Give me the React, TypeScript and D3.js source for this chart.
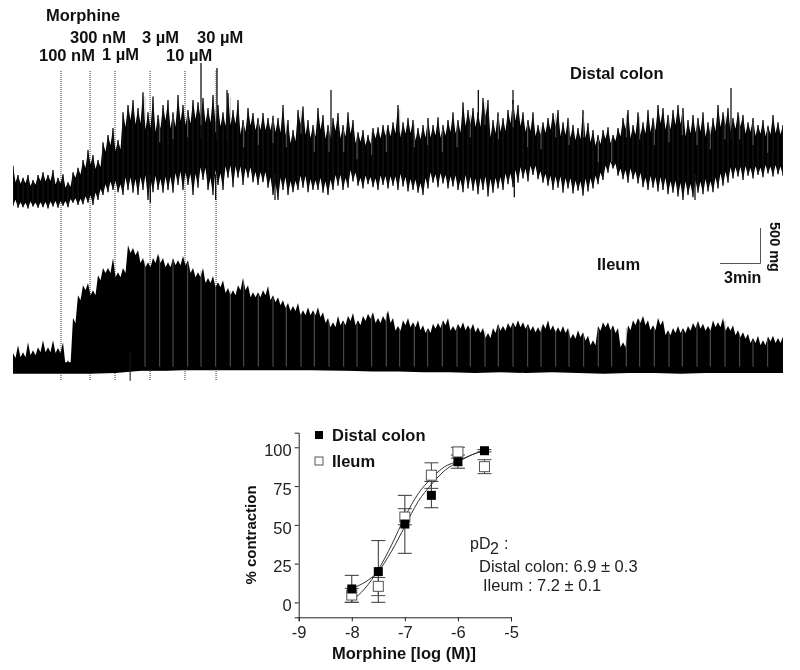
import React, {useEffect, useRef} from 'react'
import * as d3 from 'd3'

// tracings, read every 0.375 min, mg above each trace's baseline
const colonUpper = [
  620, 490, 450, 490, 420, 490, 530, 490, 560, 450, 500, 390, 530, 590, 700, 840, 770, 700, 950, 1050,
  1150, 980, 1370, 1470, 1540, 1430, 1650, 1370, 1590, 1330, 1470, 1540, 1370, 1610, 1470, 1400, 1540, 1510, 1570, 1430,
  1610, 1470, 1370, 1640, 1400, 1540, 1260, 1430, 1360, 1290, 1360, 1290, 1320, 1290, 1470, 1260, 1120, 1400, 1450, 1260,
  1190, 1430, 1330, 1190, 1290, 1360, 1190, 1370, 1260, 1090, 1120, 1050, 1150, 1160, 1190, 1190, 1230, 1470, 1230, 1290,
  1260, 1150, 1190, 1290, 1190, 1300, 1190, 1260, 1370, 1260, 1510, 1400, 1430, 1370, 1570, 1540, 1260, 1370, 1290, 1400,
  1540, 1470, 1370, 1260, 1370, 1190, 1230, 1290, 1360, 1400, 1230, 1290, 1190, 1150, 1400, 1220, 1120, 1050, 1120, 1160,
  1050, 1150, 1290, 1400, 1190, 1370, 1230, 1400, 1290, 1470, 1430, 1330, 1400, 1470, 1430, 1260, 1330, 1290, 1370, 1230,
  1290, 1470, 1370, 1430, 1290, 1370, 1330, 1230, 1290, 1190, 1260, 1180, 1330, 1230, 1190,
]
const colonLower = [
  60, 30, 40, 20, 50, 30, 40, 20, 50, 30, 60, 40, 100, 70, 80, 100, 70, 140, 210, 250,
  280, 250, 210, 280, 240, 210, 280, 140, 250, 280, 240, 280, 240, 350, 280, 350, 210, 310, 420, 280,
  210, 350, 280, 450, 320, 450, 350, 450, 390, 350, 390, 310, 210, 140, 280, 210, 250, 280, 310, 250,
  280, 280, 240, 210, 280, 340, 280, 310, 400, 340, 300, 360, 320, 280, 350, 300, 340, 280, 330, 260,
  280, 240, 210, 300, 380, 320, 370, 300, 330, 280, 250, 300, 270, 220, 280, 190, 240, 300, 280, 360,
  320, 380, 440, 400, 490, 430, 380, 340, 280, 310, 240, 300, 230, 270, 200, 260, 300, 360, 420, 520,
  580, 480, 430, 380, 430, 370, 320, 280, 310, 260, 280, 220, 240, 190, 140, 210, 180, 240, 220, 260,
  250, 300, 340, 380, 440, 470, 420, 480, 440, 490, 460, 510, 470, 500, 480,
]
const ileumUpper = [
  280, 390, 290, 430, 320, 360, 460, 360, 460, 350, 430, 180, 770, 1090, 1230, 1260, 1160, 1370, 1470, 1470,
  1610, 1410, 1470, 1790, 1750, 1720, 1610, 1550, 1610, 1670, 1610, 1550, 1610, 1580, 1640, 1580, 1470, 1410, 1470, 1330,
  1360, 1270, 1300, 1190, 1160, 1230, 1330, 1230, 1130, 1130, 1160, 1220, 1090, 1060, 1020, 980, 940, 980, 880, 920,
  880, 920, 850, 770, 710, 800, 740, 800, 840, 740, 800, 830, 850, 770, 800, 880, 770, 660, 740, 770,
  710, 740, 670, 630, 690, 700, 740, 770, 660, 690, 710, 670, 690, 640, 630, 560, 630, 690, 660, 700,
  710, 740, 710, 690, 660, 640, 690, 740, 670, 640, 660, 630, 550, 600, 570, 520, 460, 660, 710, 710,
  670, 630, 430, 670, 740, 770, 800, 740, 670, 770, 740, 600, 630, 660, 630, 660, 700, 730, 690, 660,
  740, 710, 770, 660, 670, 600, 570, 550, 490, 520, 460, 510, 520, 490, 510,
]
// ileum floor at even spacing
const ileumFloor = [
  -10, -10, -10, -10, 0, 30, 30, 50, 60, 50, 60, 50, 40, 30, 20, 20, 10, 10, 0, 10, 0, 10, 0, -10, 0, 0, -10, 0, 0, 0, 0,
]

// thin single contractions standing out of the band: [min, mg]
const colonPeaks = [
  [14.1, 2060], [15.3, 1990], [16.05, 1680], [23.85, 1680], [34.9, 1680], [37.5, 1680], [53.85, 1710],
]
const colonDips = [[10.3, 100], [15.2, 140], [19.65, 140], [37.6, 180], [51.15, 140]]
const ileumDips = [[8.75, -110]]
// pale gaps between contractions
const gapTimes = [
  9.9, 11, 12, 13.1, 14.1, 15.2, 16.3, 17.3, 18.4, 19.5, 20.5, 21.6, 22.6, 23.7, 24.8, 25.8, 26.9, 28, 29, 30.1,
  31.1, 32.2, 33.3, 34.3, 35.4, 36.4, 37.5, 38.6, 39.6, 40.7, 41.7, 42.8, 43.9, 44.9, 46, 47, 48.1, 49.2, 50.2,
  51.3, 52.3, 53.4, 54.5, 55.5, 56.6,
]
const doseTimes = [3.6, 5.78, 7.65, 10.28, 12.9, 15.23]

// concentration-response
const logDose = [-8, -7.5, -7, -6.5, -6, -5.5]
const colonMean = [8.6, 19.8, 50.5, 69, 90.7, 97.8]
const colonHigh = [17.4, 39.8, 69, 78, 95, 98.5]
const colonLow = [0, 0, 31.6, 61, 86.5, 97]
const ileumMean = [4.7, 10.3, 55, 82, 97, 87.5]
const ileumHigh = [9, 16, 60.4, 90, 100, 92]
const ileumLow = [0, 4.3, 50, 73.5, 93, 83]
const fitDose = [-8, -7.75, -7.5, -7.25, -7, -6.75, -6.5, -6.25, -6, -5.75, -5.5]
const colonFit = [9, 13, 20, 33, 49, 65, 76, 85, 90.5, 95, 98]
const ileumFit = [1, 9, 21, 37, 55, 70, 80, 87.5, 91, 95, 98]

const STEP = 0.375
const font = '"Liberation Sans", Arial, sans-serif'

// crown of teeth: each reading is a tip, the midpoints between tips are valleys
const crown = (vals: number[], depth: (i: number) => number, pick: (a: number, b: number) => number) => {
  const pts: [number, number][] = []
  vals.forEach((v, i) => {
    pts.push([i * STEP, v])
    if (i < vals.length - 1) pts.push([(i + 0.5) * STEP, pick(v, vals[i + 1]) + depth(i)])
  })
  return pts
}

const Errors = ({x, y, high, low, stroke}) => (
  <g stroke={stroke} strokeWidth={1} fill="none">
    {logDose.map((d, i) => (
      <path
        key={d}
        d={`M${x(d) - 7},${y(high[i])}H${x(d) + 7}M${x(d)},${y(high[i])}V${y(low[i])}M${x(d) - 7},${y(low[i])}H${x(d) + 7}`}
      />
    ))}
  </g>
)

export default function App() {
  const xAxisRef = useRef(null)
  const yAxisRef = useRef(null)

  const t = d3.scaleLinear().domain([0, 57.75]).range([13, 783])
  const mgColon = d3.scaleLinear().domain([0, 500]).range([210, 174.3])
  const mgIleum = d3.scaleLinear().domain([0, 500]).range([373, 337.3])
  const x = d3.scaleLinear().domain([-9, -5]).range([298.7, 511])
  const y = d3.scaleLinear().domain([0, 100]).range([602.3, 447.3])

  const edge = (scale) =>
    d3
      .line<[number, number]>()
      .x((d) => t(d[0]))
      .y((d) => scale(d[1]))
  const colonWidth = (i: number) => colonUpper[i] - colonLower[i]
  const colonTop = crown(colonUpper, (i) => -0.18 * colonWidth(i), Math.min)
  const colonBottom = crown(colonLower, (i) => 0.15 * colonWidth(i), Math.max)
  const colonBand =
    edge(mgColon)(colonTop) + 'L' + edge(mgColon)(colonBottom.slice().reverse()).slice(1) + 'Z'
  const ileumBand = d3
    .area<[number, number]>()
    .x((d) => t(d[0]))
    .y0(mgIleum(40))
    .y1((d) => mgIleum(d[1]))(crown(ileumUpper, () => -70, Math.min))
  const ileumBase = d3
    .area<number>()
    .x((_, i) => t((i * 57.75) / (ileumFloor.length - 1)))
    .y0(mgIleum(150))
    .y1((d) => mgIleum(d))(ileumFloor)
  const fit = d3
    .line<number>()
    .curve(d3.curveMonotoneX)
    .x((_, i) => x(fitDose[i]))
    .y((d) => y(d))

  useEffect(() => {
    const styleAxis = (g) => {
      g.attr('font-family', font).attr('font-size', 16.5).attr('color', '#222')
      g.selectAll('path,line').attr('stroke-width', 1)
    }
    d3.select(xAxisRef.current)
      .call(
        d3
          .axisBottom(x)
          .tickValues([-9, -8, -7, -6, -5])
          .tickFormat((d) => String(d))
          .tickSizeOuter(0)
          .tickSize(4)
          .tickPadding(5)
      )
      .call(styleAxis)
    d3.select(yAxisRef.current)
      .call(
        d3
          .axisLeft(y.copy().domain([-9.6, 109.4]).range([617.3, 432.7]))
          .tickValues([0, 25, 50, 75, 100])
          .tickSizeOuter(0)
          .tickSize(4)
      )
      .call(styleAxis)
      .call((g) => g.selectAll('text').attr('dy', '0.5em'))
  }, [])

  return (
    <svg width={800} height={670} style={{position: 'absolute', left: 0, top: 0, background: '#fff'}} fontFamily={font}>
      <defs>
        <filter id="soft" x="0" y="0" width="100%" height="100%">
          <feGaussianBlur stdDeviation="0.35" />
        </filter>
      </defs>
      <g filter="url(#soft)">
        {doseTimes.map((d) => (
          <line key={d} x1={t(d)} x2={t(d)} y1={71} y2={381} stroke="#333" strokeDasharray="1 1" />
        ))}

        <path d={colonBand} fill="#060606" />
        <g stroke="#111" strokeWidth={1.3}>
          {colonUpper.map((v, i) => (
            <line key={i} x1={t(i * STEP)} x2={t(i * STEP)} y1={mgColon(v)} y2={mgColon(colonLower[i])} />
          ))}
          {colonPeaks.map(([m, v]) => (
            <line key={m} x1={t(m)} x2={t(m)} y1={mgColon(v)} y2={mgColon(1000)} />
          ))}
          {colonDips.map(([m, v]) => (
            <line key={m} x1={t(m)} x2={t(m)} y1={mgColon(v)} y2={mgColon(500)} />
          ))}
        </g>
        <g stroke="#999" strokeWidth={0.6}>
          {gapTimes.map((m) => (
            <line
              key={m}
              x1={t(m)}
              x2={t(m)}
              y1={mgColon(colonUpper[Math.round(m / STEP)] - 60)}
              y2={mgColon(colonUpper[Math.round(m / STEP)] - 380)}
            />
          ))}
        </g>

        <path d={ileumBand} fill="#060606" />
        <path d={ileumBase} fill="#060606" />
        {ileumDips.map(([m, v]) => (
          <line key={m} x1={t(m) + 0.5} x2={t(m) + 0.5} y1={mgIleum(v)} y2={mgIleum(300)} stroke="#111" />
        ))}
        <g stroke="#888" strokeWidth={0.6}>
          {gapTimes.map((m) => (
            <line
              key={m}
              x1={t(m)}
              x2={t(m)}
              y1={mgIleum(ileumUpper[Math.round(m / STEP)] - 40)}
              y2={mgIleum(90)}
            />
          ))}
        </g>

        <path d="M720,263.5H760.5V228" fill="none" stroke="#555" strokeWidth={1} />

        <g ref={xAxisRef} transform="translate(0,617.3)" />
        <g ref={yAxisRef} transform="translate(298.7,0)" />

        <Errors x={x} y={y} high={colonHigh} low={colonLow} stroke="#333" />
        <Errors x={x} y={y} high={ileumHigh} low={ileumLow} stroke="#444" />
        <path d={fit(colonFit)} fill="none" stroke="#333" strokeWidth={1} />
        <path d={fit(ileumFit)} fill="none" stroke="#333" strokeWidth={1} />
        {ileumMean.map((v, i) => (
          <rect key={i} x={x(logDose[i]) - 5} y={y(v) - 5} width={10} height={10} fill="#fff" stroke="#555" />
        ))}
        {colonMean.map((v, i) => (
          <rect key={i} x={x(logDose[i]) - 4.5} y={y(v) - 4.5} width={9} height={9} fill="#000" />
        ))}
      </g>

      <g fontWeight="bold" fontSize={16.5} fill="#111">
        <text x={46} y={21}>Morphine</text>
        <text x={70} y={43}>300 nM</text>
        <text x={142} y={43}>3 µM</text>
        <text x={197} y={43}>30 µM</text>
        <text x={39} y={61}>100 nM</text>
        <text x={102} y={60}>1 µM</text>
        <text x={166} y={61}>10 µM</text>
        <text x={570} y={79}>Distal colon</text>
        <text x={597} y={270}>Ileum</text>
        <text x={724} y={283} fontSize={16}>3min</text>
        <text transform="translate(770,222) rotate(90)" fontSize={14.5}>500 mg</text>
      </g>

      <rect x={315} y={431} width={8} height={8} fill="#000" />
      <rect x={315} y={457} width={8} height={8} fill="#fff" stroke="#555" />
      <g fontWeight="bold" fontSize={16.5} fill="#111">
        <text x={332} y={441}>Distal colon</text>
        <text x={332} y={467}>Ileum</text>
        <text x={404} y={659} textAnchor="middle">Morphine [log (M)]</text>
        <text transform="translate(256,535) rotate(-90)" textAnchor="middle" fontSize={15}>% contraction</text>
      </g>
      <g fill="#222" fontSize={16.5}>
        <text x={470} y={549} fontSize={16}>pD</text>
        <text x={490} y={553.5} fontSize={16}>2</text>
        <text x={504} y={549} fontSize={16}>:</text>
        <text x={479} y={572}>Distal colon: 6.9 ± 0.3</text>
        <text x={483} y={591}>Ileum : 7.2 ± 0.1</text>
      </g>
    </svg>
  )
}
